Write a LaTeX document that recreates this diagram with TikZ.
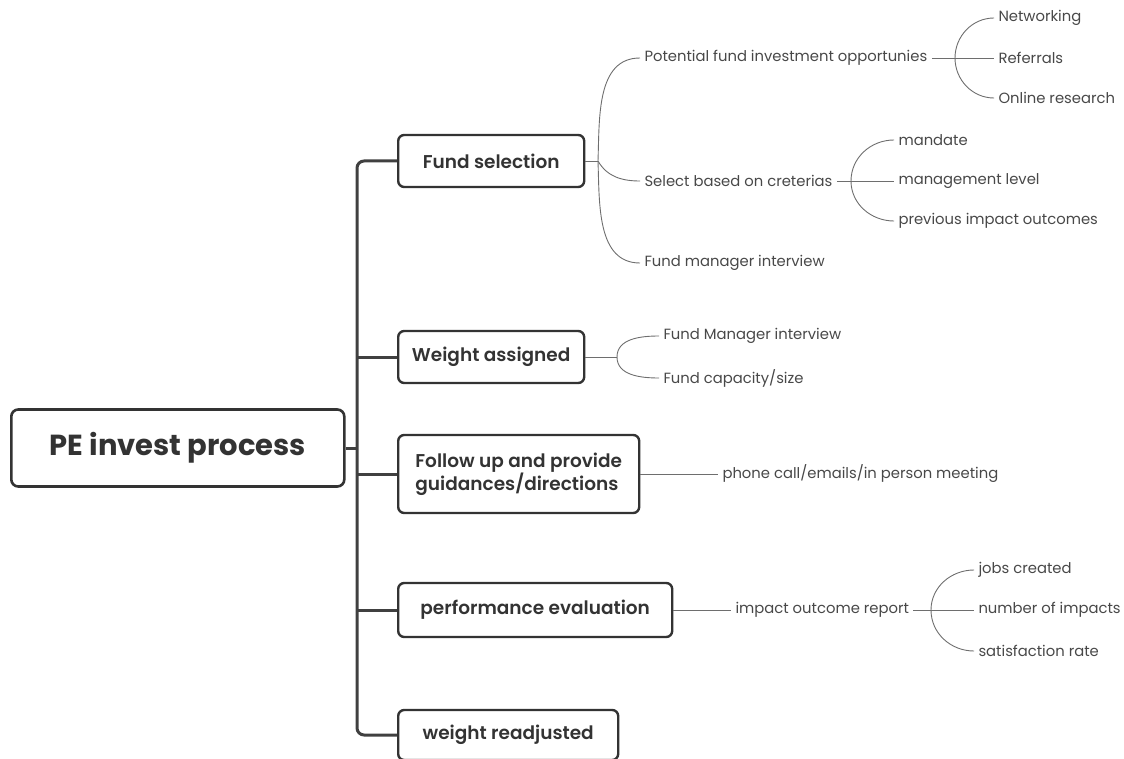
\documentclass[tikz,border=0pt]{standalone}
\usepackage{fontspec}
\setmainfont{Poppins}[BoldFont={Poppins SemiBold}]
\newfontfamily\heavyfont{Poppins Bold}
\definecolor{inkdark}{RGB}{51,51,51}
\definecolor{inkline}{RGB}{64,64,64}
\definecolor{inktwig}{RGB}{110,110,110}
\definecolor{inktext}{RGB}{72,72,72}

\tikzset{every picture/.style={line width=1pt}}
\tikzset{
  rootbox/.style={draw=inkdark, line width=2.6pt, rounded corners=7pt, anchor=west, inner sep=0pt,
    font=\fontsize{29}{33}\selectfont\heavyfont, text=inkdark},
  mainbox/.style={draw=inkdark, line width=2.4pt, rounded corners=6pt, anchor=west, inner sep=0pt,
    font=\fontsize{18.5}{23}\selectfont\bfseries, text=inkdark, align=left},
  leaf/.style={anchor=west, inner xsep=4pt, inner ysep=0pt, font=\fontsize{14.8}{17}\selectfont, text=inktext},
  trunk/.style={draw=inkline, line width=3pt},
  twig/.style={draw=inktwig, line width=0.9pt},
}

\begin{document}
\begin{tikzpicture}[x=1pt,y=1pt,yscale=-1]
\path[use as bounding box] (0,0) rectangle (1124,759);

% Root node
\node[rootbox, minimum width=333pt, minimum height=77pt] (root) at (10,448) {PE invest process};

% Main steps
\node[mainbox, minimum width=186pt, minimum height=52pt] (fs) at (397,161) {Fund selection};
\node[mainbox, minimum width=186pt, minimum height=52pt] (wa) at (397,357) {Weight assigned};
\node[mainbox, minimum width=241pt, minimum height=78pt] (fu) at (397,474) {Follow up and provide\\guidances/directions};
\node[mainbox, minimum width=274pt, minimum height=54pt] (pe) at (397,610) {performance evaluation};
\node[mainbox, minimum width=220pt, minimum height=50pt] (wr) at (397,735) {weight readjusted};

% Trunk
\coordinate (tk) at (357,448);
\draw[trunk, rounded corners=7pt] (fs.west) -| (tk) |- (wr.west);
\draw[trunk] (root.east) -- (tk);
\draw[trunk] (wa.west) -- (wa.west -| tk);
\draw[trunk] (fu.west) -- (fu.west -| tk);
\draw[trunk] (pe.west) -- (pe.west -| tk);

% Fund selection branch (y axis flipped: out=-90 points up)
\node[leaf] (pfo) at (640,58) {Potential fund investment opportunies};
\node[leaf] (sbc) at (640,181) {Select based on creterias};
\node[leaf] (fmi) at (640,263) {Fund manager interview};
\coordinate (j1) at (598,161);
\draw[twig] (fs.east) -- (j1);
\draw[twig] (j1) to[out=-88,in=180] (pfo.west);
\draw[twig] (j1) to[out=60,in=180] (sbc.west);
\draw[twig] (j1) to[out=88,in=180] (fmi.west);

% Sources
\node[leaf] (nw) at (994,18) {Networking};
\node[leaf] (rf) at (994,58) {Referrals};
\node[leaf] (orr) at (994,98) {Online research};
\coordinate (j2) at (955,58);
\draw[twig] (pfo.east) -- (rf.west);
\draw[twig] (j2) to[out=-90,in=180] (nw.west);
\draw[twig] (j2) to[out=90,in=180] (orr.west);

% Criteria
\node[leaf] (md) at (894,140) {mandate};
\node[leaf] (ml) at (894,181) {management level};
\node[leaf] (pio) at (894,221) {previous impact outcomes};
\coordinate (j3) at (851,181);
\draw[twig] (sbc.east) -- (ml.west);
\draw[twig] (j3) to[out=-90,in=180] (md.west);
\draw[twig] (j3) to[out=90,in=180] (pio.west);

% Weight assigned branch
\node[leaf] (fmi2) at (659,336) {Fund Manager interview};
\node[leaf] (fcs) at (659,378) {Fund capacity/size};
\coordinate (j4) at (617,357);
\draw[twig] (wa.east) -- (j4);
\draw[twig] (j4) to[out=-90,in=180] (fmi2.west);
\draw[twig] (j4) to[out=90,in=180] (fcs.west);

% Follow up branch
\node[leaf] (pcm) at (718,474) {phone call/emails/in person meeting};
\draw[twig] (fu.east) -- (pcm.west);

% Performance evaluation branch
\node[leaf] (ior) at (731,610) {impact outcome report};
\draw[twig] (pe.east) -- (ior.west);
\node[leaf] (jc) at (974,570) {jobs created};
\node[leaf] (noi) at (974,610) {number of impacts};
\node[leaf] (sr) at (974,651) {satisfaction rate};
\coordinate (j5) at (931,610);
\draw[twig] (ior.east) -- (noi.west);
\draw[twig] (j5) to[out=-90,in=180] (jc.west);
\draw[twig] (j5) to[out=90,in=180] (sr.west);

\end{tikzpicture}
\end{document}
